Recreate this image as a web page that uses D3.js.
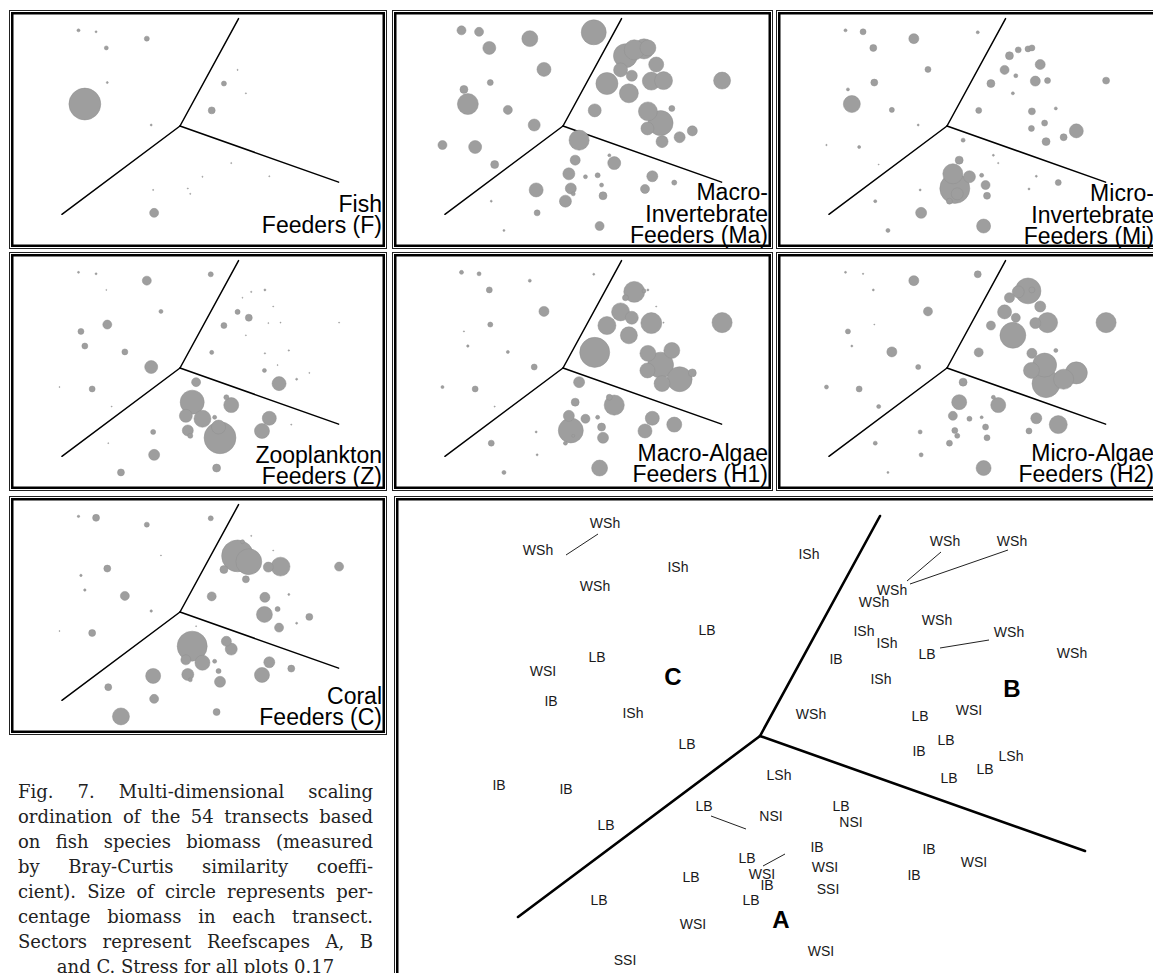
<!DOCTYPE html>
<html>
<head>
<meta charset="utf-8">
<script src="https://cdn.jsdelivr.net/npm/d3@7"></script>
<style>
  body { margin: 0; background: #fff; }
  svg { display: block; }
</style>
</head>
<body>
<div id="canvas"></div>
<script>
// habitat code of each of the 54 transects, in ordination order
const transects = ["WSh","WSh","ISh","WSh","LB","LB","WSI","IB","ISh","LB","IB","IB","LB","ISh",
    "WSh","WSh","WSh","WSh","WSh","ISh","ISh","IB","LB","WSh","WSh","ISh","WSh","LB","WSI","LB","IB","LSh","LB","LB",
    "LSh","LB","NSI","LB","NSI","IB","WSI","SSI","LB","WSI","IB","LB","LB","WSI","WSI","IB","WSI","IB","LB","SSI"];

// MDS ordination scores
const mdsX = [-1.72,-2.08,-0.68,-1.51,-0.39,-1.49,-2.03,-1.95,-1.13,-0.59,-2.47,-1.80,-1.40,0.63,
    1.66,1.74,1.46,1.28,1.91,1.18,1.41,0.90,1.81,2.06,3.26,1.35,0.65,1.74,2.23,2.00,1.73,2.65,2.39,2.03,
    0.33,0.12,0.25,0.95,1.05,0.71,0.79,0.82,0.46,0.16,0.21,0.05,-0.55,-0.53,0.75,1.83,2.28,1.68,-1.47,-1.21];
const mdsY = [1.93,1.96,1.79,1.60,1.16,0.89,0.75,0.45,0.33,0.02,-0.39,-0.43,-0.79,1.92,
    1.58,1.60,1.56,1.44,1.26,1.15,1.03,0.87,0.92,0.93,0.93,0.67,0.32,0.30,0.36,0.06,-0.05,-0.10,-0.23,-0.32,
    -0.29,-0.98,-0.70,-0.60,-0.76,-1.01,-1.21,-1.43,-1.04,-1.28,-1.39,-1.54,-1.31,-1.78,-2.05,-1.03,-1.16,-1.29,-1.54,-2.14];

// percentage biomass of each feeding group per transect
const fishF = [0.35,0.8,2.2,1.4,0,0.35,0,88,0,0.35,0,0,0,0,
    0,0,0,0,0,0.12,0,2.2,0,0,0,0.12,4.2,0,0,0,0,0,0,0,
    0,0,0,0,0.12,0,0,0,0.12,0.12,0.12,0,0.12,7,0,0.12,0,0,0,0];
const macroInvF = [7,7,22,14.6,17,3.1,5.5,38,7,12.5,7,14.6,5.5,54,
    35,22,35,50,19.5,17,10.5,42,28,28,25,31,14.6,31,3.1,54,14.6,8.7,10.5,12.5,
    35,12.5,8.7,0.8,14.6,2.2,1.4,5.5,1.4,10.5,1.4,12.5,17,3.1,7,10.5,2.2,7,0.35,0.35];
const microInvF = [3.1,0.8,8.7,4.2,3.1,4.2,0.8,25,2.2,0.35,0.17,0.8,0.09,0.8,
    3.1,3.1,3.1,5.5,8.7,7,1.4,5.5,8.7,3.1,4.2,0.8,3.1,4.2,0.8,3.1,3.1,17,4.2,5.5,
    1.4,35,5.5,0.35,0.17,1.4,7,4.2,12.5,78,12.5,3.1,0.35,10.5,17,0.35,3.1,0.35,0.8,1.4];
const zooplanktonF = [0.35,0.35,7,0.06,1.4,7,3.1,3.1,3.1,14.6,0.09,3.1,0.09,2.2,
    0,0.35,0.17,0.06,0.09,2.2,4.2,3.1,0.09,0.09,0.09,0.06,1.4,0.17,0.17,0.09,1.4,0.09,0.35,17,
    7,14.6,50,2.2,19.5,1.4,17,88,25,10.5,2.2,0,2.2,10.5,5.5,17,0.12,19.5,0.09,4.2];
const macroAlgaeF = [1.4,1.4,0.8,3.1,8.7,2.2,0.12,0.5,0.8,3.1,0.8,3.1,0.12,0.35,
    1.4,0.35,38,3.1,0.12,28,14.6,28,38,0.12,35,25,78,22,22,58,19.5,5.5,54,22,
    10.5,10.5,5.5,3.1,35,1.4,5.5,10.5,7,54,0.8,1.4,0.35,0.35,22,17,19.5,17,3.1,1.4];
const microAlgaeF = [0.17,0.35,8.7,0.35,7,0.06,2.2,0.35,8.7,2.2,1.4,3.1,1.4,4.2,
    58,3.1,12.5,8.7,10.5,17,7,7,10.5,35,35,58,7,8.7,1.4,50,22,42,35,68,
    5.5,7,19.5,1.4,19.5,0.8,3.1,3.1,2.2,3.1,2.2,3.1,1.4,1.4,19.5,10.5,28,3.1,1.4,0.35];
const coralF = [4.2,0.5,2.2,0,0.09,4.2,0.5,0.5,7,0.5,0.09,4.2,0,2.2,
    0,0,0.12,1.4,0.09,88,58,5.5,8.7,31,7,4.2,7,8.7,0.35,2.2,22,4.2,0.35,7,
    0.09,8.7,78,8.7,12.5,1.4,2.2,10.5,19.5,12.5,1.4,0,19.5,7,4.2,10.5,4.2,19.5,4.2,25];

// sector boundaries (from the common vertex at 0,0)
const sectorEndX = [1.20, -2.42, 3.25];
const sectorEndY = [2.20, -1.81, -1.15];

// reefscape letters
const reefNames = ["A", "B", "C"];
const reefX = [0.21, 2.52, -0.87];
const reefY = [-1.83, 0.48, 0.60];

// labels moved off their point, with leader lines
const leaderIdx = [0, 14, 15, 23, 35, 42];
const leaderLabelX = [-1.55, 1.85, 2.52, 2.49, -0.56, -0.13];
const leaderLabelY = [2.13, 1.95, 1.95, 1.04, -0.70, -1.22];
const leaderFromX = [-1.94, 1.47, 1.50, 1.80, -0.49, 0.03];
const leaderFromY = [1.81, 1.55, 1.52, 0.88, -0.80, -1.30];
const leaderToX = [-1.62, 1.81, 2.48, 2.29, -0.14, 0.25];
const leaderToY = [2.02, 1.84, 1.86, 0.96, -0.93, -1.18];

const captionLines = [
    "Fig. 7. Multi-dimensional scaling",
    "ordination of the 54 transects based",
    "on fish species biomass (measured",
    "by Bray-Curtis similarity coeffi-",
    "cient). Size of circle represents per-",
    "centage biomass in each transect.",
    "Sectors represent Reefscapes A, B",
    "and C. Stress for all plots 0.17"
];

const panels = [
    { title: ["Fish", "Feeders (F)"], values: fishF, col: 0, row: 0, base: 223 },
    { title: ["Macro-", "Invertebrate", "Feeders (Ma)"], values: macroInvF, col: 1, row: 0, base: 233 },
    { title: ["Micro-", "Invertebrate", "Feeders (Mi)"], values: microInvF, col: 2, row: 0, base: 234 },
    { title: ["Zooplankton", "Feeders (Z)"], values: zooplanktonF, col: 0, row: 1, base: 232 },
    { title: ["Macro-Algae", "Feeders (H1)"], values: macroAlgaeF, col: 1, row: 1, base: 230 },
    { title: ["Micro-Algae", "Feeders (H2)"], values: microAlgaeF, col: 2, row: 1, base: 230 },
    { title: ["Coral", "Feeders (C)"], values: coralF, col: 0, row: 2, base: 229 }
];

const colX = [9, 392, 776], colW = [378, 381, 383];
const rowY = [10, 252, 496], panelH = 239;
const smallUnit = 48.8, bigUnit = 100;
const sansFont = "'Liberation Sans', Arial, Helvetica, sans-serif";

const svg = d3.select("#canvas").append("svg")
    .attr("width", 1153)
    .attr("height", 973);

const rScale = d3.scaleSqrt().domain([0, 100]).range([0, 17]);

function drawFrame(g, w, h) {
    g.append("rect")
        .attr("x", 0.5).attr("y", 0.5)
        .attr("width", w - 1).attr("height", h - 1)
        .attr("fill", "none").attr("stroke", "#222").attr("stroke-width", 1);
    g.append("rect")
        .attr("x", 3.25).attr("y", 3.25)
        .attr("width", w - 6.5).attr("height", h - 6.5)
        .attr("fill", "none").attr("stroke", "#000").attr("stroke-width", 2.5);
}

function drawSectors(g, sx, sy, width) {
    g.selectAll("line.sector")
        .data(sectorEndX)
        .enter()
        .append("line")
        .attr("class", "sector")
        .attr("x1", sx(0)).attr("y1", sy(0))
        .attr("x2", (d, i) => sx(sectorEndX[i]))
        .attr("y2", (d, i) => sy(sectorEndY[i]))
        .attr("stroke", "#000")
        .attr("stroke-width", width)
        .attr("stroke-linecap", "round");
}

// ---- small bubble panels
panels.forEach(p => {
    const w = colW[p.col];
    const g = svg.append("g")
        .attr("transform", `translate(${colX[p.col]},${rowY[p.row]})`);

    const sx = d3.scaleLinear().domain([0, 1]).range([171, 171 + smallUnit]);
    const sy = d3.scaleLinear().domain([0, 1]).range([116, 116 - smallUnit]);

    drawSectors(g, sx, sy, 1.5);

    const idx = d3.range(transects.length)
        .filter(i => p.values[i] > 0)
        .sort((a, b) => p.values[b] - p.values[a]);

    g.selectAll("circle")
        .data(idx)
        .enter()
        .append("circle")
        .attr("cx", i => sx(mdsX[i]))
        .attr("cy", i => sy(mdsY[i]))
        .attr("r", i => Math.max(0.5, rScale(p.values[i])))
        .attr("fill", "#9e9e9e")
        .attr("stroke", "#919191")
        .attr("stroke-width", 0.5);

    g.selectAll("text.title")
        .data(p.title)
        .enter()
        .append("text")
        .attr("class", "title")
        .text(d => d)
        .attr("x", w - 5)
        .attr("y", (d, k) => p.base - (p.title.length - 1 - k) * 21.5)
        .attr("text-anchor", "end")
        .attr("fill", "#000")
        .style("font-family", sansFont)
        .style("font-size", "23px");

    drawFrame(g, w, panelH);
});

// ---- large labelled ordination
const big = svg.append("g").attr("transform", "translate(394,496)");
const bx = d3.scaleLinear().domain([0, 1]).range([366, 366 + bigUnit]);
const by = d3.scaleLinear().domain([0, 1]).range([240, 240 - bigUnit]);

drawSectors(big, bx, by, 2.6);

const plain = d3.range(transects.length).filter(i => !leaderIdx.includes(i));

big.selectAll("text.site")
    .data(plain)
    .enter()
    .append("text")
    .attr("class", "site")
    .text(i => transects[i])
    .attr("x", i => bx(mdsX[i]) - 14)
    .attr("y", i => by(mdsY[i]) + 10)
    .attr("dy", "0.36em")
    .attr("text-anchor", "middle")
    .attr("fill", "#1a1a1a")
    .style("font-family", sansFont)
    .style("font-size", "14px");

big.selectAll("text.moved")
    .data(leaderIdx)
    .enter()
    .append("text")
    .attr("class", "moved")
    .text(i => transects[i])
    .attr("x", (d, k) => bx(leaderLabelX[k]))
    .attr("y", (d, k) => by(leaderLabelY[k]))
    .attr("dy", "0.36em")
    .attr("text-anchor", "middle")
    .attr("fill", "#1a1a1a")
    .style("font-family", sansFont)
    .style("font-size", "14px");

big.selectAll("line.leader")
    .data(leaderIdx)
    .enter()
    .append("line")
    .attr("class", "leader")
    .attr("x1", (d, k) => bx(leaderFromX[k]))
    .attr("y1", (d, k) => by(leaderFromY[k]))
    .attr("x2", (d, k) => bx(leaderToX[k]))
    .attr("y2", (d, k) => by(leaderToY[k]))
    .attr("stroke", "#222")
    .attr("stroke-width", 1);

big.selectAll("text.reef")
    .data(reefNames)
    .enter()
    .append("text")
    .attr("class", "reef")
    .text(d => d)
    .attr("x", (d, i) => bx(reefX[i]))
    .attr("y", (d, i) => by(reefY[i]))
    .attr("dy", "0.36em")
    .attr("text-anchor", "middle")
    .attr("fill", "#000")
    .style("font-family", sansFont)
    .style("font-size", "24px")
    .style("font-weight", "bold");

drawFrame(big, 800, 520);

// ---- caption, justified
const capLeft = 18, capRight = 373;
const caption = svg.append("g")
    .style("font-family", "'DejaVu Serif', 'Liberation Serif', serif")
    .style("font-size", "18px")
    .attr("fill", "#222");

captionLines.forEach((line, li) => {
    const y = 798 + li * 25;
    if (li === captionLines.length - 1) {
        caption.append("text")
            .text(line)
            .attr("x", (capLeft + capRight) / 2)
            .attr("y", y)
            .attr("text-anchor", "middle");
        return;
    }
    const words = line.split(" ");
    const nodes = words.map(wd => caption.append("text").text(wd).attr("y", y));
    const widths = nodes.map(n => n.node().getComputedTextLength());
    const gap = (capRight - capLeft - d3.sum(widths)) / (words.length - 1);
    let x = capLeft;
    nodes.forEach((n, k) => {
        n.attr("x", x);
        x += widths[k] + gap;
    });
});
</script>
</body>
</html>
